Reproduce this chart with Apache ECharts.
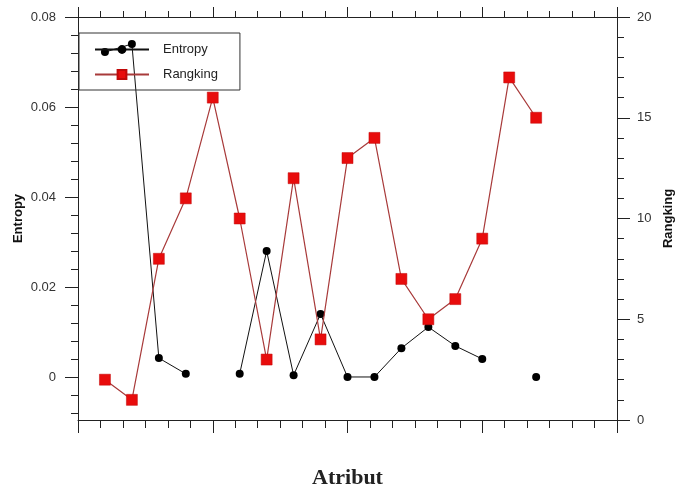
<!DOCTYPE html>
<html>
<head>
<meta charset="utf-8">
<script src="https://cdn.jsdelivr.net/npm/echarts@6/dist/echarts.min.js"></script>
<style>html,body{margin:0;padding:0;background:#fff}#c{width:675px;height:491px}</style>
</head>
<body>
<div id="c"></div>
<script>
var atributs = [1,2,3,4,5,6,7,8,9,10,11,12,13,14,15,16,17];
var entropy = [0.0722,0.0740,0.0042,0.0007,null,0.0007,0.0280,0.0004,0.0140,0.0000,0.0000,0.0064,0.0111,0.0069,0.0040,null,0.0000];
var rangking = [2,1,8,11,16,10,3,12,4,13,14,7,5,6,9,17,15];
var entropyLabels = [0,0.02,0.04,0.06,0.08];
var entropyMinorTicks = [-0.008,-0.004,0.004,0.008,0.012,0.016,0.024,0.028,0.032,0.036,0.044,0.048,0.052,0.056,0.064,0.068,0.072,0.076];
var rangkingLabels = [0,5,10,15,20];

var font = 'Liberation Sans, Arial, sans-serif';
var axisColor = '#222';
var entMin = -0.00956, entMax = 0.08;

var chart = echarts.init(document.getElementById('c'), null, {renderer:'canvas'});
chart.setOption({
  animation:false,
  backgroundColor:'#fff',
  grid:{left:78, right:58, top:17, bottom:71, containLabel:false, outerBoundsMode:'none'},
  legend:{
    orient:'vertical', left:79, top:33,
    padding:[10,22,9,15],
    borderColor:'#333', borderWidth:1, borderRadius:0,
    itemWidth:54, itemHeight:11, itemGap:12,
    textStyle:{fontFamily:font, fontSize:13, color:'#222', padding:[0,0,0,9]},
    data:['Entropy','Rangking']
  },
  xAxis:[{
    type:'value', min:0, max:20, interval:5, position:'bottom',
    name:'Atribut', nameLocation:'middle', nameGap:47,
    nameTextStyle:{fontFamily:'Liberation Serif, Times New Roman, serif', fontWeight:'bold', fontSize:22, color:'#222'},
    axisLine:{show:true, onZero:false, lineStyle:{color:axisColor, width:1}},
    axisTick:{show:true, inside:false, length:13, lineStyle:{color:axisColor}},
    minorTick:{show:true, splitNumber:6, length:8, lineStyle:{color:axisColor}},
    axisLabel:{show:false}, splitLine:{show:false}, minorSplitLine:{show:false}
  },{
    type:'value', min:0, max:20, interval:5, position:'top',
    axisLine:{show:true, onZero:false, lineStyle:{color:axisColor, width:1}},
    axisTick:{show:true, inside:false, length:10, lineStyle:{color:axisColor}},
    minorTick:{show:true, splitNumber:6, length:6, lineStyle:{color:axisColor}},
    axisLabel:{show:false}, splitLine:{show:false}
  }],
  yAxis:[{
    type:'value', min:entMin, max:entMax, position:'left',
    name:'Entropy', nameLocation:'middle', nameGap:53, nameRotate:90, nameMoveOverlap:false,
    nameTextStyle:{fontFamily:font, fontWeight:'bold', fontSize:13, color:'#111'},
    axisLine:{show:true, onZero:false, lineStyle:{color:axisColor, width:1}},
    axisTick:{show:true, inside:false, length:13, customValues:entropyLabels, lineStyle:{color:axisColor}},
    axisLabel:{show:true, margin:22, customValues:entropyLabels, fontFamily:font, fontSize:13, color:'#333',
      formatter:function(v){return v===0?'0':v.toFixed(2);}},
    splitLine:{show:false}
  },{
    type:'value', min:0, max:20, interval:5, position:'right',
    name:'Rangking', nameLocation:'middle', nameGap:42, nameRotate:90,
    nameTextStyle:{fontFamily:font, fontWeight:'bold', fontSize:13, color:'#111'},
    axisLine:{show:true, onZero:false, lineStyle:{color:axisColor, width:1}},
    axisTick:{show:true, inside:false, length:13, lineStyle:{color:axisColor}},
    minorTick:{show:true, splitNumber:5, length:7, lineStyle:{color:axisColor}},
    axisLabel:{show:true, margin:20, fontFamily:font, fontSize:13, color:'#333'},
    splitLine:{show:false}
  },{
    type:'value', min:entMin, max:entMax, position:'left',
    axisLine:{show:false},
    axisTick:{show:true, inside:false, length:7, customValues:entropyMinorTicks, lineStyle:{color:axisColor}},
    axisLabel:{show:false}, splitLine:{show:false}
  }],
  series:[{
    name:'Entropy', type:'line', xAxisIndex:0, yAxisIndex:0,
    data:atributs.map(function(x,i){return [x, entropy[i]===null?'-':entropy[i]];}),
    connectNulls:false, showAllSymbol:true,
    symbol:'circle', symbolSize:8,
    lineStyle:{color:'#111', width:1},
    itemStyle:{color:'#000'},
    z:2
  },{
    name:'Rangking', type:'line', xAxisIndex:0, yAxisIndex:1,
    data:atributs.map(function(x,i){return [x, rangking[i]];}),
    showAllSymbol:true,
    symbol:'rect', symbolSize:11,
    lineStyle:{color:'#a83a3a', width:1.2},
    itemStyle:{color:'#e80c0c', borderColor:'#c00808', borderWidth:0.5},
    z:3
  }]
});
</script>
</body>
</html>
